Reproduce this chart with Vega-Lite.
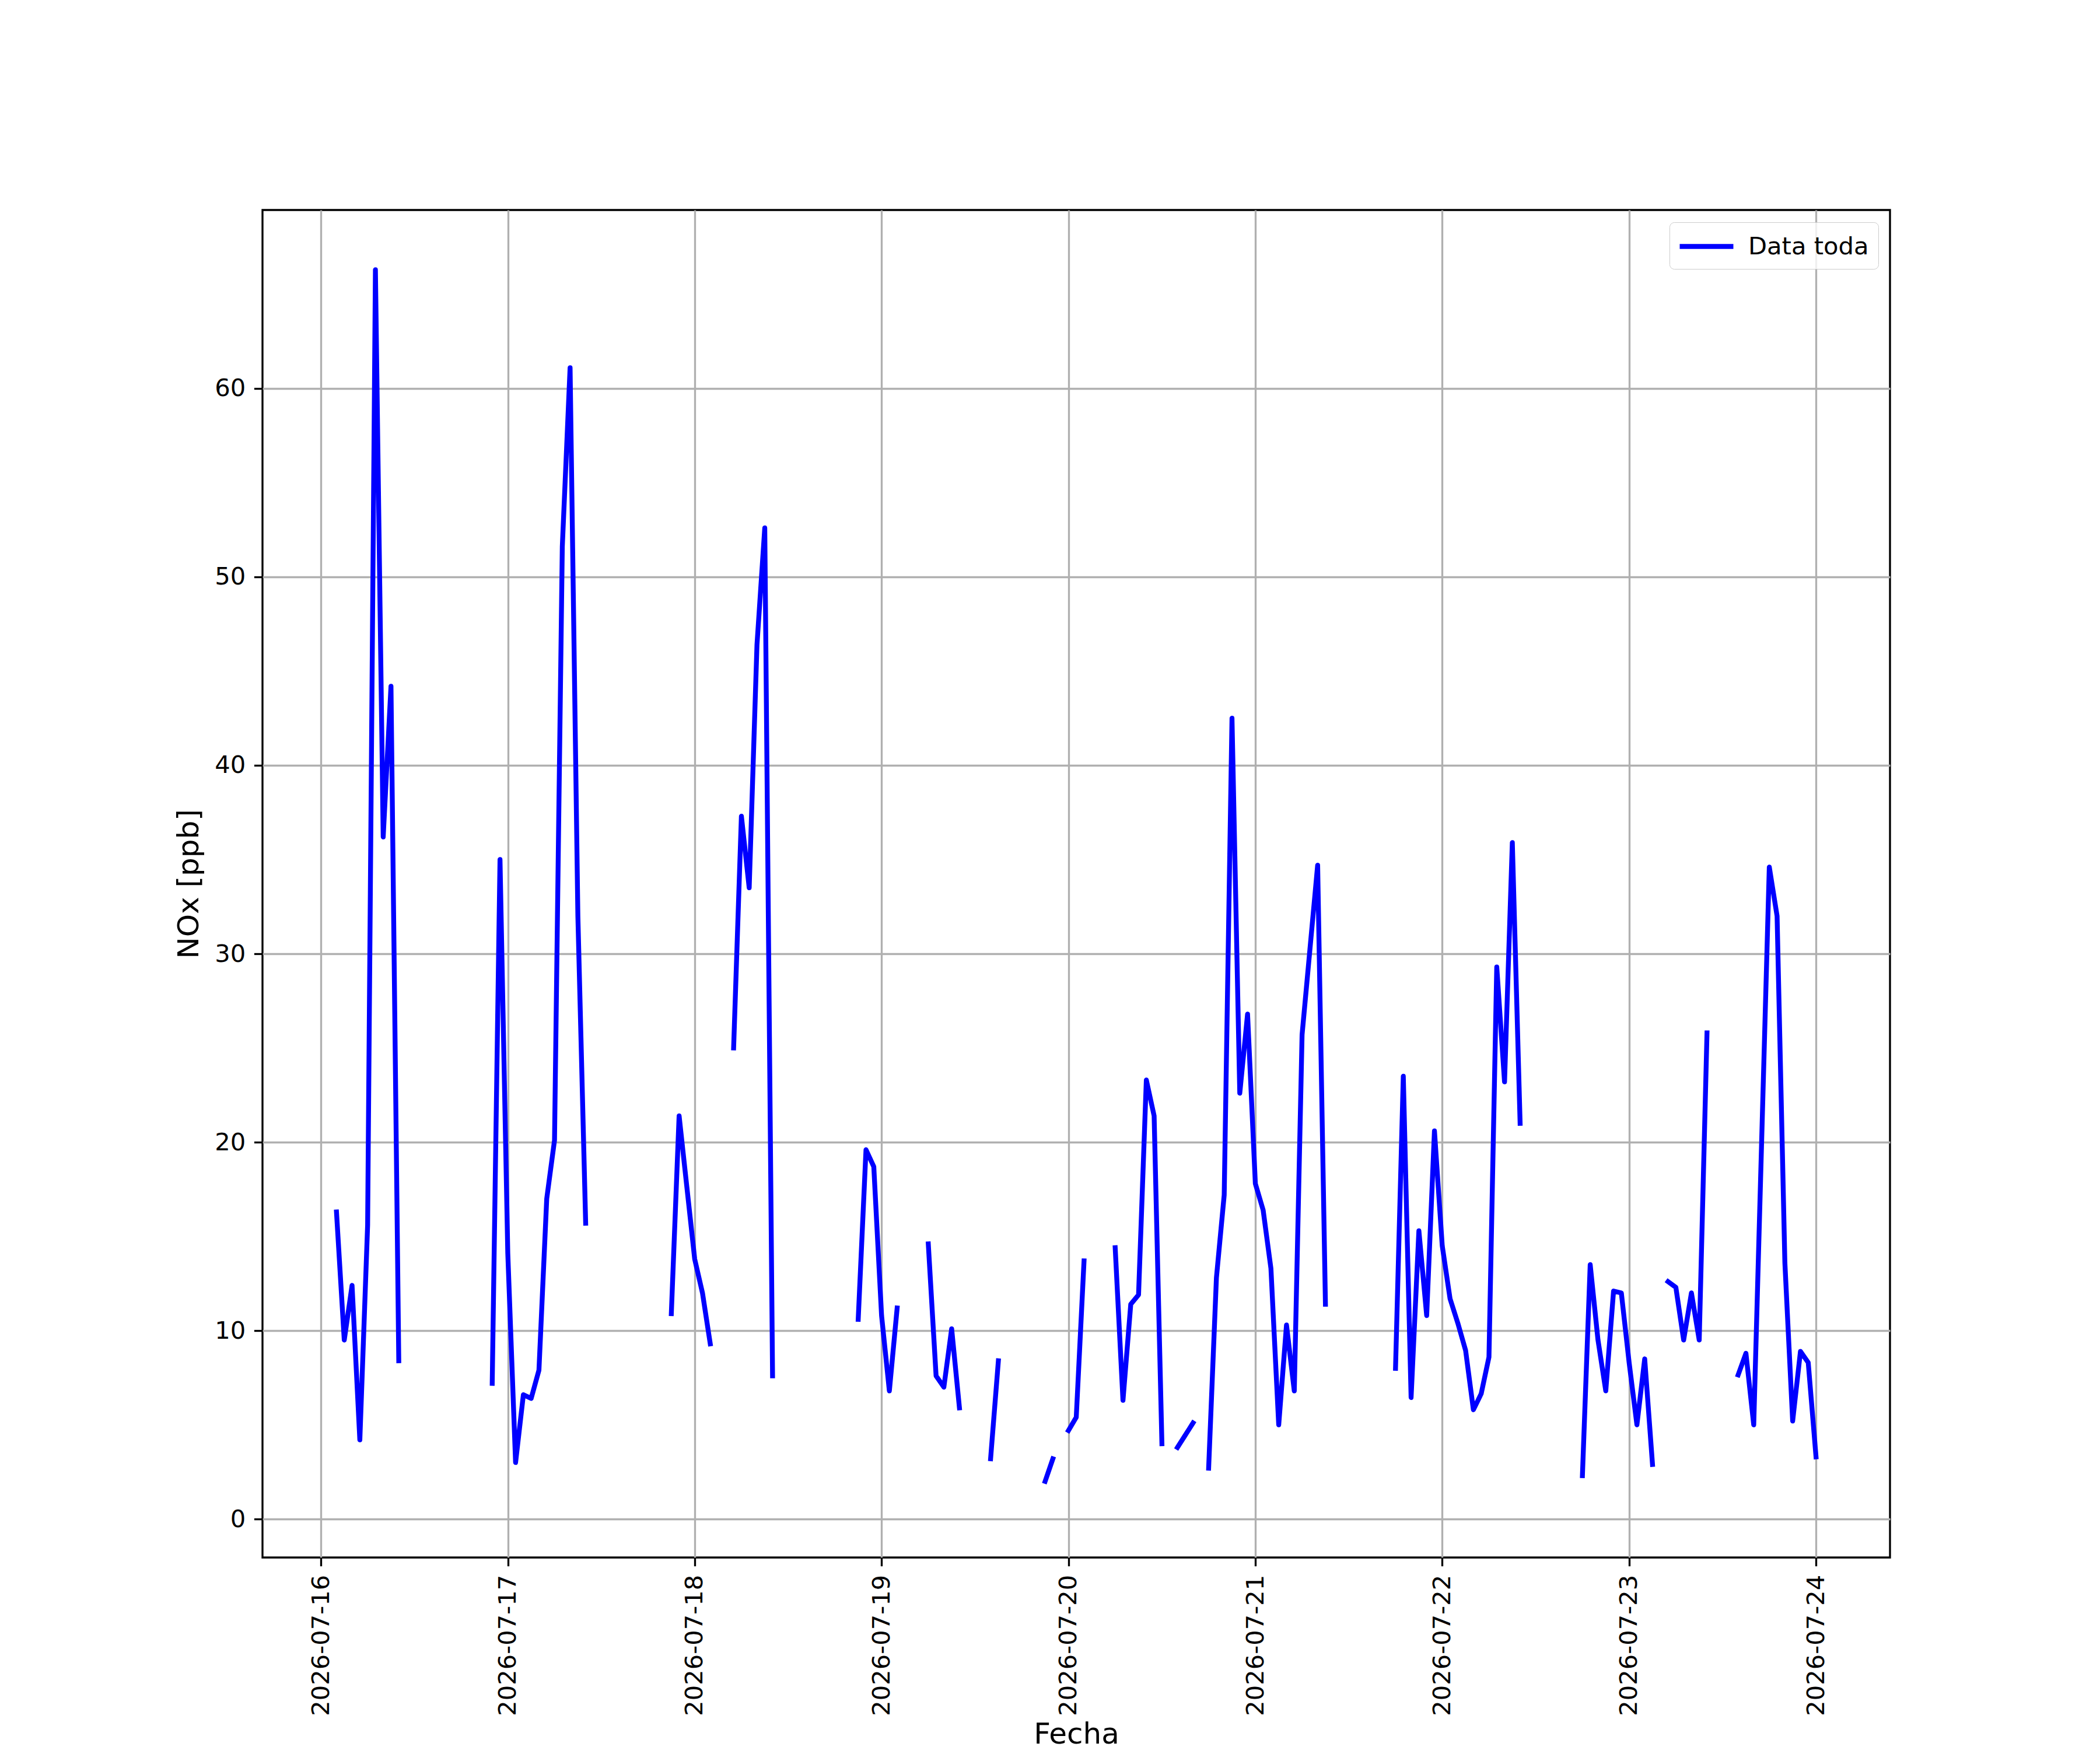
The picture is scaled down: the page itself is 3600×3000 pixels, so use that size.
{
  "$schema": "https://vega.github.io/schema/vega-lite/v6.json",
  "description": "NOx [ppb] por hora, 2026-07-16 a 2026-07-24, con huecos",
  "autosize": {"type": "none"},
  "width": 2790,
  "height": 2310,
  "padding": {"left": 450, "top": 360, "right": 360, "bottom": 330},
  "background": "white",
  "config": {
    "font": "DejaVu Sans",
    "view": {"stroke": "black", "strokeWidth": 3.33},
    "axis": {
      "domain": false,
      "grid": true,
      "gridColor": "#b0b0b0",
      "gridWidth": 3.33,
      "ticks": true,
      "tickColor": "black",
      "tickWidth": 3.33,
      "tickSize": 14.6,
      "labelPadding": 14.6,
      "labelFont": "DejaVu Sans",
      "labelFontSize": 41.67,
      "labelColor": "black",
      "labelLimit": 1000,
      "labelFlush": false,
      "labelOverlap": false,
      "titleFont": "DejaVu Sans",
      "titleFontSize": 50,
      "titleFontWeight": "normal",
      "titleColor": "black"
    }
  },
  "data": {
    "values": [
      {"fecha": "2026-07-16T02:00:00", "nox": 16.3},
      {"fecha": "2026-07-16T03:00:00", "nox": 9.5},
      {"fecha": "2026-07-16T04:00:00", "nox": 12.4},
      {"fecha": "2026-07-16T05:00:00", "nox": 4.2},
      {"fecha": "2026-07-16T06:00:00", "nox": 15.6},
      {"fecha": "2026-07-16T07:00:00", "nox": 66.3},
      {"fecha": "2026-07-16T08:00:00", "nox": 36.2},
      {"fecha": "2026-07-16T09:00:00", "nox": 44.2},
      {"fecha": "2026-07-16T10:00:00", "nox": 8.4},
      {"fecha": "2026-07-16T11:00:00", "nox": null},
      {"fecha": "2026-07-16T22:00:00", "nox": 7.2},
      {"fecha": "2026-07-16T23:00:00", "nox": 35.0},
      {"fecha": "2026-07-17T00:00:00", "nox": 14.1},
      {"fecha": "2026-07-17T01:00:00", "nox": 3.0},
      {"fecha": "2026-07-17T02:00:00", "nox": 6.6},
      {"fecha": "2026-07-17T03:00:00", "nox": 6.4},
      {"fecha": "2026-07-17T04:00:00", "nox": 7.9},
      {"fecha": "2026-07-17T05:00:00", "nox": 17.0},
      {"fecha": "2026-07-17T06:00:00", "nox": 20.1},
      {"fecha": "2026-07-17T07:00:00", "nox": 51.6},
      {"fecha": "2026-07-17T08:00:00", "nox": 61.1},
      {"fecha": "2026-07-17T09:00:00", "nox": 32.0},
      {"fecha": "2026-07-17T10:00:00", "nox": 15.7},
      {"fecha": "2026-07-17T11:00:00", "nox": null},
      {"fecha": "2026-07-17T21:00:00", "nox": 10.9},
      {"fecha": "2026-07-17T22:00:00", "nox": 21.4},
      {"fecha": "2026-07-17T23:00:00", "nox": 17.6},
      {"fecha": "2026-07-18T00:00:00", "nox": 13.8},
      {"fecha": "2026-07-18T01:00:00", "nox": 12.0},
      {"fecha": "2026-07-18T02:00:00", "nox": 9.3},
      {"fecha": "2026-07-18T03:00:00", "nox": null},
      {"fecha": "2026-07-18T05:00:00", "nox": 25.0},
      {"fecha": "2026-07-18T06:00:00", "nox": 37.3},
      {"fecha": "2026-07-18T07:00:00", "nox": 33.5},
      {"fecha": "2026-07-18T08:00:00", "nox": 46.4},
      {"fecha": "2026-07-18T09:00:00", "nox": 52.6},
      {"fecha": "2026-07-18T10:00:00", "nox": 7.6},
      {"fecha": "2026-07-18T11:00:00", "nox": null},
      {"fecha": "2026-07-18T21:00:00", "nox": 10.6},
      {"fecha": "2026-07-18T22:00:00", "nox": 19.6},
      {"fecha": "2026-07-18T23:00:00", "nox": 18.7},
      {"fecha": "2026-07-19T00:00:00", "nox": 10.8},
      {"fecha": "2026-07-19T01:00:00", "nox": 6.8},
      {"fecha": "2026-07-19T02:00:00", "nox": 11.2},
      {"fecha": "2026-07-19T03:00:00", "nox": null},
      {"fecha": "2026-07-19T06:00:00", "nox": 14.6},
      {"fecha": "2026-07-19T07:00:00", "nox": 7.6},
      {"fecha": "2026-07-19T08:00:00", "nox": 7.0},
      {"fecha": "2026-07-19T09:00:00", "nox": 10.1},
      {"fecha": "2026-07-19T10:00:00", "nox": 5.9},
      {"fecha": "2026-07-19T11:00:00", "nox": null},
      {"fecha": "2026-07-19T14:00:00", "nox": 3.2},
      {"fecha": "2026-07-19T15:00:00", "nox": 8.4},
      {"fecha": "2026-07-19T16:00:00", "nox": null},
      {"fecha": "2026-07-19T21:00:00", "nox": 2.0},
      {"fecha": "2026-07-19T22:00:00", "nox": 3.2},
      {"fecha": "2026-07-19T23:00:00", "nox": null},
      {"fecha": "2026-07-20T00:00:00", "nox": 4.7},
      {"fecha": "2026-07-20T01:00:00", "nox": 5.4},
      {"fecha": "2026-07-20T02:00:00", "nox": 13.7},
      {"fecha": "2026-07-20T03:00:00", "nox": null},
      {"fecha": "2026-07-20T06:00:00", "nox": 14.4},
      {"fecha": "2026-07-20T07:00:00", "nox": 6.3},
      {"fecha": "2026-07-20T08:00:00", "nox": 11.4},
      {"fecha": "2026-07-20T09:00:00", "nox": 11.9},
      {"fecha": "2026-07-20T10:00:00", "nox": 23.3},
      {"fecha": "2026-07-20T11:00:00", "nox": 21.4},
      {"fecha": "2026-07-20T12:00:00", "nox": 4.0},
      {"fecha": "2026-07-20T13:00:00", "nox": null},
      {"fecha": "2026-07-20T14:00:00", "nox": 3.8},
      {"fecha": "2026-07-20T15:00:00", "nox": 4.45},
      {"fecha": "2026-07-20T16:00:00", "nox": 5.1},
      {"fecha": "2026-07-20T17:00:00", "nox": null},
      {"fecha": "2026-07-20T18:00:00", "nox": 2.7},
      {"fecha": "2026-07-20T19:00:00", "nox": 12.8},
      {"fecha": "2026-07-20T20:00:00", "nox": 17.2},
      {"fecha": "2026-07-20T21:00:00", "nox": 42.5},
      {"fecha": "2026-07-20T22:00:00", "nox": 22.6},
      {"fecha": "2026-07-20T23:00:00", "nox": 26.8},
      {"fecha": "2026-07-21T00:00:00", "nox": 17.8},
      {"fecha": "2026-07-21T01:00:00", "nox": 16.4},
      {"fecha": "2026-07-21T02:00:00", "nox": 13.3},
      {"fecha": "2026-07-21T03:00:00", "nox": 5.0},
      {"fecha": "2026-07-21T04:00:00", "nox": 10.3},
      {"fecha": "2026-07-21T05:00:00", "nox": 6.8},
      {"fecha": "2026-07-21T06:00:00", "nox": 25.7},
      {"fecha": "2026-07-21T07:00:00", "nox": 30.2},
      {"fecha": "2026-07-21T08:00:00", "nox": 34.7},
      {"fecha": "2026-07-21T09:00:00", "nox": 11.4},
      {"fecha": "2026-07-21T10:00:00", "nox": null},
      {"fecha": "2026-07-21T18:00:00", "nox": 8.0},
      {"fecha": "2026-07-21T19:00:00", "nox": 23.5},
      {"fecha": "2026-07-21T20:00:00", "nox": 6.45},
      {"fecha": "2026-07-21T21:00:00", "nox": 15.3},
      {"fecha": "2026-07-21T22:00:00", "nox": 10.8},
      {"fecha": "2026-07-21T23:00:00", "nox": 20.6},
      {"fecha": "2026-07-22T00:00:00", "nox": 14.5},
      {"fecha": "2026-07-22T01:00:00", "nox": 11.7},
      {"fecha": "2026-07-22T02:00:00", "nox": 10.4},
      {"fecha": "2026-07-22T03:00:00", "nox": 8.95},
      {"fecha": "2026-07-22T04:00:00", "nox": 5.8},
      {"fecha": "2026-07-22T05:00:00", "nox": 6.65},
      {"fecha": "2026-07-22T06:00:00", "nox": 8.6},
      {"fecha": "2026-07-22T07:00:00", "nox": 29.3},
      {"fecha": "2026-07-22T08:00:00", "nox": 23.2},
      {"fecha": "2026-07-22T09:00:00", "nox": 35.9},
      {"fecha": "2026-07-22T10:00:00", "nox": 21.0},
      {"fecha": "2026-07-22T11:00:00", "nox": null},
      {"fecha": "2026-07-22T18:00:00", "nox": 2.3},
      {"fecha": "2026-07-22T19:00:00", "nox": 13.5},
      {"fecha": "2026-07-22T20:00:00", "nox": 9.5},
      {"fecha": "2026-07-22T21:00:00", "nox": 6.8},
      {"fecha": "2026-07-22T22:00:00", "nox": 12.1},
      {"fecha": "2026-07-22T23:00:00", "nox": 12.0},
      {"fecha": "2026-07-23T00:00:00", "nox": 8.3},
      {"fecha": "2026-07-23T01:00:00", "nox": 5.0},
      {"fecha": "2026-07-23T02:00:00", "nox": 8.5},
      {"fecha": "2026-07-23T03:00:00", "nox": 2.9},
      {"fecha": "2026-07-23T04:00:00", "nox": null},
      {"fecha": "2026-07-23T05:00:00", "nox": 12.6},
      {"fecha": "2026-07-23T06:00:00", "nox": 12.3},
      {"fecha": "2026-07-23T07:00:00", "nox": 9.5},
      {"fecha": "2026-07-23T08:00:00", "nox": 12.0},
      {"fecha": "2026-07-23T09:00:00", "nox": 9.5},
      {"fecha": "2026-07-23T10:00:00", "nox": 25.8},
      {"fecha": "2026-07-23T11:00:00", "nox": null},
      {"fecha": "2026-07-23T14:00:00", "nox": 7.65},
      {"fecha": "2026-07-23T15:00:00", "nox": 8.8},
      {"fecha": "2026-07-23T16:00:00", "nox": 5.0},
      {"fecha": "2026-07-23T17:00:00", "nox": 19.8},
      {"fecha": "2026-07-23T18:00:00", "nox": 34.6},
      {"fecha": "2026-07-23T19:00:00", "nox": 32.0},
      {"fecha": "2026-07-23T20:00:00", "nox": 13.6},
      {"fecha": "2026-07-23T21:00:00", "nox": 5.2},
      {"fecha": "2026-07-23T22:00:00", "nox": 8.9},
      {"fecha": "2026-07-23T23:00:00", "nox": 8.3},
      {"fecha": "2026-07-24T00:00:00", "nox": 3.3}
    ]
  },
  "mark": {
    "type": "line",
    "strokeWidth": 8.33,
    "strokeCap": "square",
    "strokeJoin": "round",
    "invalid": "break-paths-show-domains",
    "clip": true
  },
  "encoding": {
    "x": {
      "field": "fecha",
      "type": "temporal",
      "title": "Fecha",
      "scale": {
        "domain": [
          {"year": 2026, "month": 7, "date": 15, "hours": 16, "minutes": 30},
          {"year": 2026, "month": 7, "date": 24, "hours": 9, "minutes": 30}
        ]
      },
      "axis": {
        "values": [
          {"year": 2026, "month": 7, "date": 16},
          {"year": 2026, "month": 7, "date": 17},
          {"year": 2026, "month": 7, "date": 18},
          {"year": 2026, "month": 7, "date": 19},
          {"year": 2026, "month": 7, "date": 20},
          {"year": 2026, "month": 7, "date": 21},
          {"year": 2026, "month": 7, "date": 22},
          {"year": 2026, "month": 7, "date": 23},
          {"year": 2026, "month": 7, "date": 24}
        ],
        "format": "%Y-%m-%d",
        "labelAngle": 270,
        "labelAlign": "right",
        "labelBaseline": "middle",
        "titlePadding": 78
      }
    },
    "y": {
      "field": "nox",
      "type": "quantitative",
      "title": "NOx [ppb]",
      "scale": {"domain": [-2.04, 69.47], "nice": false, "zero": false},
      "axis": {
        "values": [0, 10, 20, 30, 40, 50, 60],
        "titlePadding": 18
      }
    },
    "color": {
      "datum": "Data toda",
      "type": "nominal",
      "scale": {"range": ["#0000ff"]},
      "legend": {
        "title": null,
        "orient": "none",
        "legendX": 2412,
        "legendY": 21,
        "padding": 16,
        "strokeColor": "#cccccc",
        "fillColor": "rgba(255,255,255,0.8)",
        "cornerRadius": 8,
        "symbolType": "M-2.19,0L2.19,0",
        "symbolStrokeWidth": 8.33,
        "symbolSize": 1764,
        "symbolOffset": 22,
        "labelFont": "DejaVu Sans",
        "labelFontSize": 41.67,
        "labelColor": "black",
        "labelLimit": 1000,
        "labelOffset": 46
      }
    }
  }
}
